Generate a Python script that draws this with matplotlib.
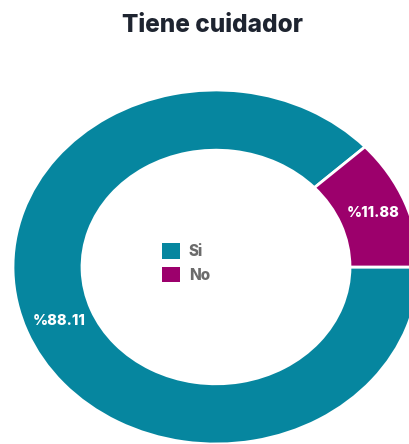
import matplotlib.pyplot as plt
from matplotlib.patches import Patch

categories = ['Si', 'No']
values = [88.11, 11.88]
pct_labels = ['%88.11', '%11.88']
colors = ['#06869f', '#9c006c']

fig = plt.figure(figsize=(4.09, 4.44), dpi=100)
ax = fig.add_axes([0, 0, 1, 1])

label_iter = iter(pct_labels)
wedges, texts, autotexts = ax.pie(values, colors=colors, startangle=0, counterclock=False,
	radius=1, wedgeprops=dict(width=0.34, edgecolor='white', linewidth=2),
	autopct=lambda p: next(label_iter), pctdistance=0.83,
	textprops=dict(color='white', fontsize=10.5, fontweight='heavy', family='Inter'))

# donut is stretched horizontally in the reference
ax.set_aspect('auto')
ax.set_xlim(-216/203, (409-216)/203)
ax.set_ylim(-(444-267)/177, 267/177)
ax.axis('off')

fig.text(0.519, 0.943, 'Tiene cuidador', ha='center', va='center', fontsize=17.5,
	fontweight='heavy', family='Inter', color='#1e2430')

handles = [Patch(facecolor=c, edgecolor='none') for c in colors]
leg = ax.legend(handles, categories, loc='center', bbox_to_anchor=(186/409, 1-263/444),
	bbox_transform=fig.transFigure, frameon=False, handlelength=1.15, handleheight=1.15,
	labelspacing=0.5, handletextpad=0.6,
	prop=dict(family='Inter', weight='heavy', size=11))
for t in leg.get_texts():
	t.set_color('#6b6b6b')

fig.savefig('out.png', dpi=100)
